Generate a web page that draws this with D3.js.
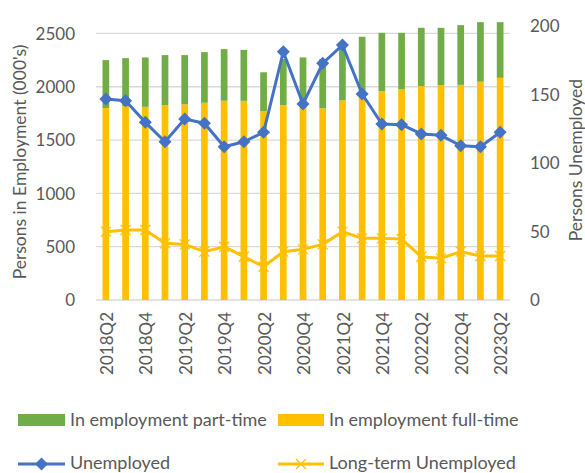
<!DOCTYPE html>
<html><head><meta charset="utf-8">
<script src="https://cdn.jsdelivr.net/npm/d3@7"></script>
<style>
html,body{margin:0;padding:0;background:#fff;}
svg text{font-family:Lato,"Open Sans",sans-serif;fill:#595959;}
</style></head>
<body><svg id="c" width="585" height="473"></svg>
<script>
const quarters = ["2018Q2","2018Q3","2018Q4","2019Q1","2019Q2","2019Q3","2019Q4","2020Q1","2020Q2","2020Q3","2020Q4","2021Q1","2021Q2","2021Q3","2021Q4","2022Q1","2022Q2","2022Q3","2022Q4","2023Q1","2023Q2"];
const fullTime = [1800,1819,1812,1828,1835,1850,1869,1868,1772,1828,1797,1798,1872,1920,1957,1975,2006,2016,2018,2047,2084];
const partTime = [450,450,463,469,462,475,484,478,364,432,478,462,488,549,549,531,547,537,560,559,522];
const unemployed = [146.7,145.5,129.7,115.5,132.1,129.0,111.9,115.5,122.4,181.2,143.1,172.8,186.1,150.4,128.5,128.0,121.2,120.2,112.6,111.9,122.4];
const longTerm = [49.9,51.1,51.1,41.4,40.6,35.3,38.9,31.6,24.3,35.3,37.0,40.6,49.9,45.0,45.0,44.5,31.6,30.4,35.3,32.1,32.1];
const leftTicks = [0,500,1000,1500,2000,2500];
const rightTicks = [0,50,100,150,200];
const xLabels = ["2018Q2","2018Q4","2019Q2","2019Q4","2020Q2","2020Q4","2021Q2","2021Q4","2022Q2","2022Q4","2023Q2"];

const C = {green:"#70AD47", yellow:"#FFC000", blue:"#4472C4", grid:"#d9d9d9", text:"#595959"};
const svg = d3.select("#c");
const x = d3.scaleBand().domain(quarters).range([96,510]).paddingInner(0.66).paddingOuter(0.33);
const yL = d3.scaleLinear().domain([0,2570]).range([300,26]);
const yR = d3.scaleLinear().domain([0,200]).range([300,26]);
const cx = d => x(d) + x.bandwidth()/2;

// gridlines
svg.append("g").selectAll("line").data(leftTicks).join("line")
  .attr("x1",96).attr("x2",510).attr("y1",d=>yL(d)).attr("y2",d=>yL(d))
  .attr("stroke",C.grid).attr("stroke-width",1.3);

// bars
const rows = quarters.map((q,i)=>({q, ft:fullTime[i], pt:partTime[i]}));
svg.append("g").selectAll("rect.ft").data(rows).join("rect")
  .attr("x",d=>x(d.q)).attr("width",x.bandwidth())
  .attr("y",d=>yL(d.ft)).attr("height",d=>yL(0)-yL(d.ft)).attr("fill",C.yellow);
svg.append("g").selectAll("rect.pt").data(rows).join("rect")
  .attr("x",d=>x(d.q)).attr("width",x.bandwidth())
  .attr("y",d=>yL(d.ft+d.pt)).attr("height",d=>yL(d.ft)-yL(d.ft+d.pt)).attr("fill",C.green);

// long-term line
const ltLine = d3.line().x((d,i)=>cx(quarters[i])).y(d=>yR(d));
svg.append("path").datum(longTerm).attr("d",ltLine).attr("fill","none")
  .attr("stroke",C.yellow).attr("stroke-width",3).attr("stroke-linejoin","round");
const xm = 5;
const ltG = svg.append("g").selectAll("g").data(longTerm).join("g")
  .attr("transform",(d,i)=>`translate(${cx(quarters[i])},${yR(d)})`);
ltG.append("path").attr("d",`M${-xm},${-xm}L${xm},${xm}M${-xm},${xm}L${xm},${-xm}`)
  .attr("stroke",C.yellow).attr("stroke-width",1.2);

// unemployed line
const uLine = d3.line().x((d,i)=>cx(quarters[i])).y(d=>yR(d));
svg.append("path").datum(unemployed).attr("d",uLine).attr("fill","none")
  .attr("stroke",C.blue).attr("stroke-width",3).attr("stroke-linejoin","round");
const dm = 6.5;
svg.append("g").selectAll("path").data(unemployed).join("path")
  .attr("transform",(d,i)=>`translate(${cx(quarters[i])},${yR(d)})`)
  .attr("d",`M0,${-dm}L${dm},0L0,${dm}L${-dm},0Z`).attr("fill",C.blue);

// left axis labels
svg.append("g").selectAll("text").data(leftTicks).join("text")
  .attr("x",75).attr("y",d=>yL(d)).attr("dy","0.36em").attr("text-anchor","end")
  .style("font-size","17px").text(d=>d);
// right axis labels
svg.append("g").selectAll("text").data(rightTicks).join("text")
  .attr("x",530).attr("y",d=>yR(d)).attr("dy","0.36em").attr("text-anchor","start")
  .style("font-size","17px").text(d=>d);
// x labels
svg.append("g").selectAll("text").data(xLabels).join("text")
  .attr("transform",d=>`translate(${cx(d)+1},312) rotate(-90)`)
  .attr("dy","0.36em").attr("text-anchor","end").style("font-size","17px").text(d=>d);

// axis titles
svg.append("text").attr("transform","translate(20,162) rotate(-90)").attr("dy","0.36em")
  .attr("text-anchor","middle").style("font-size","17.5px").text("Persons in Employment (000's)");
svg.append("text").attr("transform","translate(576,160) rotate(-90)").attr("dy","0.36em")
  .attr("text-anchor","middle").style("font-size","17.5px").text("Persons Unemployed");

// legend
const leg = svg.append("g");
leg.append("rect").attr("x",18).attr("y",414).attr("width",47).attr("height",12).attr("fill",C.green);
leg.append("text").attr("x",70).attr("y",426).style("font-size","18px").text("In employment part-time");
leg.append("rect").attr("x",278).attr("y",414).attr("width",46).attr("height",12).attr("fill",C.yellow);
leg.append("text").attr("x",329).attr("y",426).style("font-size","18px").text("In employment full-time");
leg.append("line").attr("x1",18).attr("x2",65).attr("y1",464).attr("y2",464).attr("stroke",C.blue).attr("stroke-width",3);
leg.append("path").attr("transform","translate(41.5,464)").attr("d",`M0,${-dm}L${dm},0L0,${dm}L${-dm},0Z`).attr("fill",C.blue);
leg.append("line").attr("x1",278).attr("x2",324).attr("y1",464).attr("y2",464).attr("stroke",C.yellow).attr("stroke-width",3);
leg.append("path").attr("transform","translate(301,464)").attr("d",`M${-xm},${-xm}L${xm},${xm}M${-xm},${xm}L${xm},${-xm}`).attr("stroke",C.yellow).attr("stroke-width",1.2);
leg.append("text").attr("x",70).attr("y",469).style("font-size","18px").text("Unemployed");
leg.append("text").attr("x",329).attr("y",469).style("font-size","18px").text("Long-term Unemployed");
</script></body></html>
